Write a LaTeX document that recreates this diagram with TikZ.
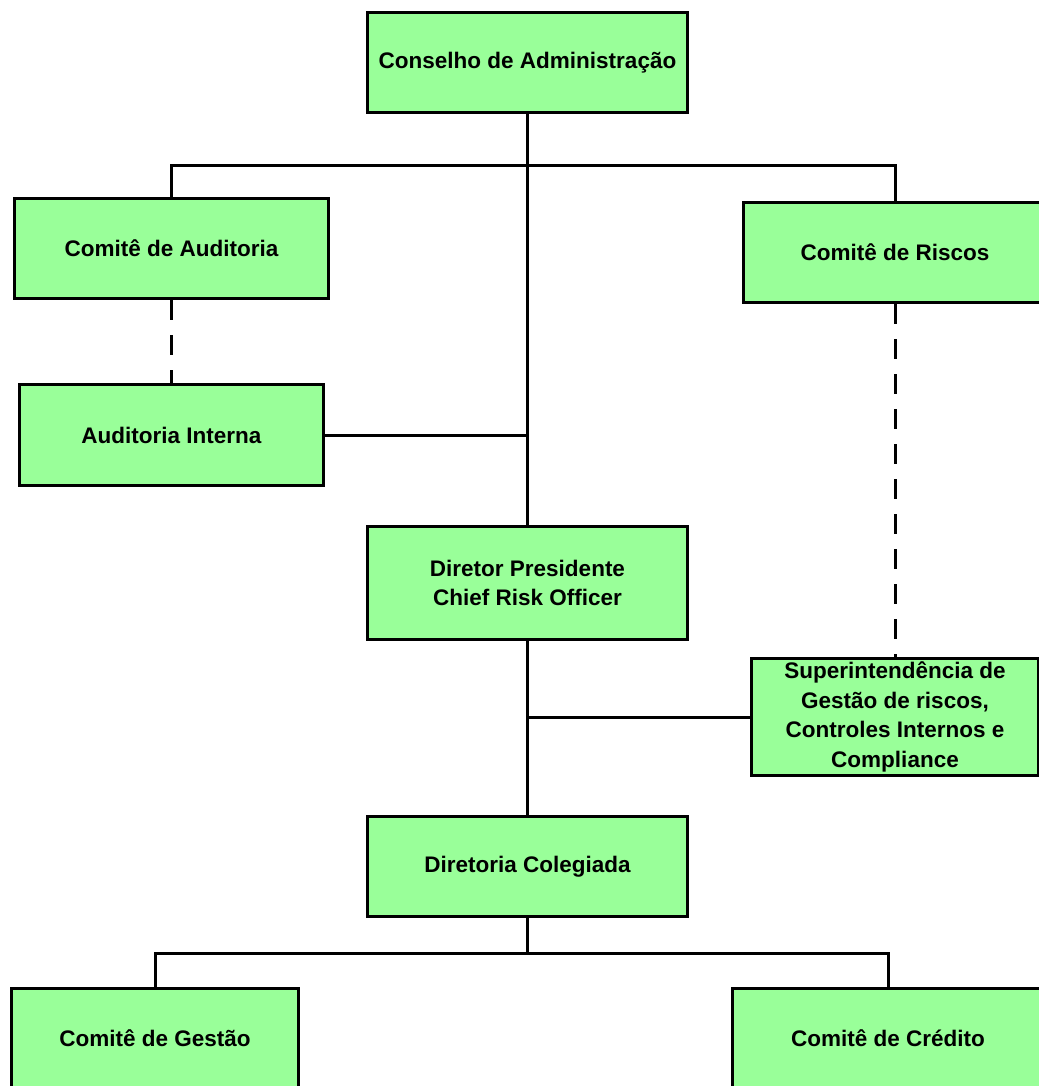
\documentclass[tikz,border=0pt]{standalone}
\usepackage{fontspec}
\setmainfont{Liberation Sans}
\usepackage{tikz}
\usetikzlibrary{positioning}
\definecolor{boxgreen}{HTML}{99FF99}

\begin{document}
\begin{tikzpicture}[x=1pt,y=-1pt,line width=3pt,
    orgbox/.style={draw,fill=boxgreen,rectangle,align=center,inner sep=0pt,
      minimum width=320pt,minimum height=100pt,
      font=\fontsize{22.5}{29.5}\selectfont\bfseries},
    dashline/.style={dash pattern=on 20pt off 15pt}]
        \useasboundingbox (0,0) rectangle (1038,1086);
        \node[orgbox] (conselho) at (527.5,62.5) {Conselho de Administração};
        \node[orgbox,minimum width=314pt] (caudit) at (171.5,248.5) {Comitê de Auditoria};
        \node[orgbox,minimum width=303pt] (criscos) at (895,252.5) {Comitê de Riscos};
        \node[orgbox,minimum width=304pt,minimum height=101pt] (audint) at (171.5,435) {Auditoria Interna};
        \node[orgbox,minimum height=113pt] (dirpres) at (527.5,583) {Diretor Presidente\\Chief Risk Officer};
        \node[orgbox,minimum width=287pt,minimum height=117pt] (superint) at (895,717)
            {Superintendência de\\Gestão de riscos,\\Controles Internos e\\Compliance};
        \node[orgbox] (colegiada) at (527.5,866.5) {Diretoria Colegiada};
        \node[orgbox,minimum width=287pt] (cgestao) at (155,1038.5) {Comitê de Gestão};
        \node[orgbox,minimum width=311pt] (ccredito) at (888,1038.5) {Comitê de Crédito};

        \coordinate (topbus) at (527.5,166);
        \coordinate (lowbus) at (527.5,953);

        \draw (conselho.south) -- (dirpres.north);
        \draw (caudit.north) |- (topbus) -| (criscos.north);
        \draw[dashline] (caudit.south) -- (audint.north);
        \draw[dashline] (criscos.south) -- (superint.north);
        \draw (audint.east) -- (audint.east -| conselho.south);
        \draw (dirpres.south) -- (colegiada.north);
        \draw (superint.west) -- (superint.west -| dirpres.south);
        \draw (colegiada.south) -- (lowbus);
        \draw (cgestao.north) |- (lowbus) -| (ccredito.north);
    \end{tikzpicture}
\end{document}
